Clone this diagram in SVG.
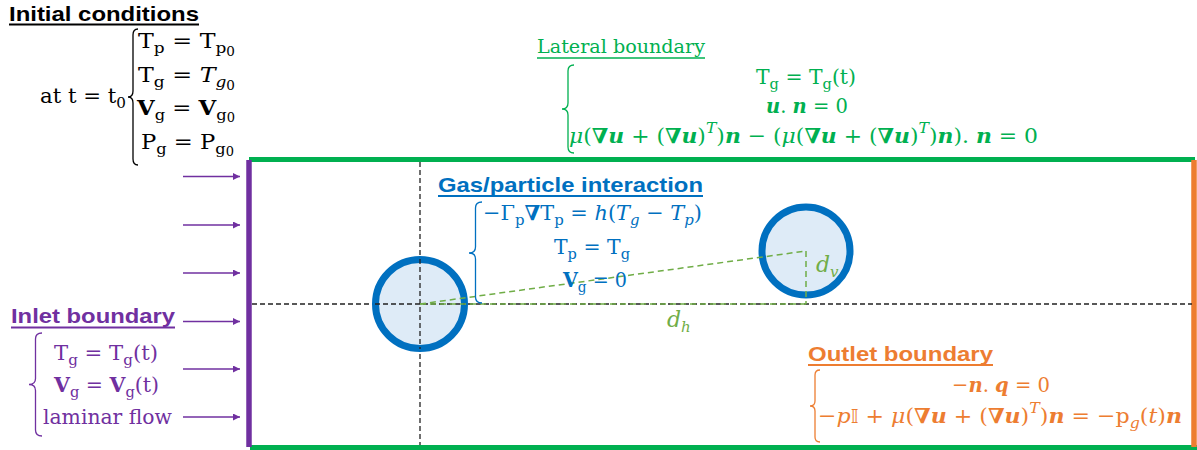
<svg xmlns="http://www.w3.org/2000/svg" width="1197" height="450" viewBox="0 0 1197 450">
<style>
.m{font-family:"DejaVu Serif","Liberation Serif",serif;font-size:21px}
.t{font-family:"Liberation Sans",Arial,sans-serif;font-size:20.5px;font-weight:bold}
.b{font-weight:bold}
.i{font-style:italic}
.bi{font-weight:bold;font-style:italic}
.s{font-size:15px}
.ss{font-size:12px}
.brace{fill:none;stroke-width:1.3}
.blk{fill:#000}
.grn{fill:#00B050}
.blu{fill:#0070C0}
.pur{fill:#7030A0}
.org{fill:#ED7D31}
.lg{fill:#70AD47}
</style>
<defs>
<marker id="ah" viewBox="0 0 10 10" refX="10" refY="5" markerWidth="8" markerHeight="7" markerUnits="userSpaceOnUse" orient="auto">
<path d="M0,0 L10,5 L0,10 z" fill="#7030A0"/>
</marker>
</defs>
<rect width="1197" height="450" fill="#fff"/>

<g id="domain">
<line x1="249" y1="159.5" x2="1195" y2="159.5" stroke="#00B050" stroke-width="5"/>
<line x1="250" y1="447.5" x2="1197" y2="447.5" stroke="#00B050" stroke-width="5"/>
<line x1="249" y1="160" x2="249" y2="447" stroke="#7030A0" stroke-width="5.5"/>
<line x1="1194" y1="160" x2="1194" y2="447" stroke="#ED7D31" stroke-width="5.5"/>
</g>

<g id="connectors">
<g stroke="#222" stroke-width="1.3" stroke-dasharray="5,3" fill="none">
<line x1="252" y1="304" x2="1192" y2="304"/>
<line x1="420" y1="162" x2="420" y2="445"/>
</g>
<g stroke="#7030A0" stroke-width="1.5" marker-end="url(#ah)">
<line x1="183" y1="176.5" x2="240" y2="176.5"/>
<line x1="183" y1="225" x2="240" y2="225"/>
<line x1="183" y1="273" x2="240" y2="273"/>
<line x1="183" y1="321.5" x2="240" y2="321.5"/>
<line x1="183" y1="369" x2="240" y2="369"/>
<line x1="183" y1="417" x2="240" y2="417"/>
</g>
</g>

<g id="particle1">
<circle cx="420" cy="304" r="44.5" fill="#DEEBF7" stroke="#0070C0" stroke-width="7"/>
<line x1="420" y1="259" x2="420" y2="349" stroke="#222" stroke-width="1.3" stroke-dasharray="5,3"/>
<line x1="375" y1="304" x2="465" y2="304" stroke="#222" stroke-width="1.3" stroke-dasharray="5,3"/>
</g>
<g id="particle2">
<circle cx="806" cy="251" r="44" fill="#DEEBF7" stroke="#0070C0" stroke-width="7"/>
</g>

<g id="distances" stroke="#70AD47" stroke-width="1.5" stroke-dasharray="6,4" fill="none">
<line x1="420" y1="304" x2="806" y2="251"/>
<line x1="806" y1="251" x2="806" y2="304"/>
<line x1="420" y1="304" x2="806" y2="304"/>
</g>
<g id="dist-labels">
<text x="667" y="327" class="m i lg" style="font-size:22px">d<tspan class="s" dy="5">h</tspan></text>
<text x="816" y="272" class="m i lg" style="font-size:22px">d<tspan class="s" dy="5">v</tspan></text>
</g>

<g id="initial-conditions">
<text x="9" y="21" class="t blk" textLength="190" lengthAdjust="spacingAndGlyphs">Initial conditions</text>
<line x1="9" y1="24.5" x2="199" y2="24.5" stroke="#000" stroke-width="1.8"/>
<text x="40" y="103" class="m blk" textLength="86" lengthAdjust="spacingAndGlyphs">at t = t<tspan class="s" dy="5">0</tspan></text>
<path class="brace" stroke="#000" d="M138,29 Q133,29 133,35 L133,91 Q133,97 128,97 Q133,97 133,103 L133,159 Q133,165 138,165"/>
<text x="138" y="48" class="m blk" textLength="97" lengthAdjust="spacingAndGlyphs">T<tspan class="s" dy="5">p</tspan><tspan dy="-5"> = T</tspan><tspan class="s" dy="5">p</tspan><tspan class="ss" dy="3">0</tspan></text>
<text x="138" y="81.5" class="m blk" textLength="97" lengthAdjust="spacingAndGlyphs">T<tspan class="s" dy="5">g</tspan><tspan dy="-5"> = </tspan><tspan class="i">T</tspan><tspan class="s i" dy="5">g</tspan><tspan class="ss" dy="3">0</tspan></text>
<text x="137" y="115" class="m blk" textLength="98" lengthAdjust="spacingAndGlyphs"><tspan class="b">V</tspan><tspan class="s" dy="5">g</tspan><tspan dy="-5"> = </tspan><tspan class="b">V</tspan><tspan class="s" dy="5">g</tspan><tspan class="ss" dy="2">0</tspan></text>
<text x="141" y="148.5" class="m blk" textLength="93" lengthAdjust="spacingAndGlyphs">P<tspan class="s" dy="5">g</tspan><tspan dy="-5"> = P</tspan><tspan class="s" dy="5">g</tspan><tspan class="ss" dy="2">0</tspan></text>
</g>

<g id="lateral-boundary">
<text x="537" y="53" class="m grn" style="font-size:19px" textLength="168" lengthAdjust="spacingAndGlyphs">Lateral boundary</text>
<line x1="537" y1="58" x2="705" y2="58" stroke="#00B050" stroke-width="1.5"/>
<path class="brace" stroke="#00B050" d="M574,65 Q568,65 568,71 L568,103 Q568,109 562,109 Q568,109 568,115 L568,147 Q568,153 574,153"/>
<text x="756" y="84" class="m grn" textLength="100" lengthAdjust="spacingAndGlyphs">T<tspan class="s" dy="5">g</tspan><tspan dy="-5"> = T</tspan><tspan class="s" dy="5">g</tspan><tspan dy="-5">(t)</tspan></text>
<text x="766" y="113" class="m grn" textLength="82" lengthAdjust="spacingAndGlyphs"><tspan class="bi">u</tspan>. <tspan class="bi">n</tspan> = 0</text>
<text x="569" y="143" class="m grn" textLength="469" lengthAdjust="spacingAndGlyphs"><tspan class="i">μ</tspan>(<tspan class="b">∇</tspan><tspan class="bi">u</tspan> + (<tspan class="b">∇</tspan><tspan class="bi">u</tspan>)<tspan class="s i" dy="-10">T</tspan><tspan dy="10">)</tspan><tspan class="bi">n</tspan> − (<tspan class="i">μ</tspan>(<tspan class="b">∇</tspan><tspan class="bi">u</tspan> + (<tspan class="b">∇</tspan><tspan class="bi">u</tspan>)<tspan class="s i" dy="-10">T</tspan><tspan dy="10">)</tspan><tspan class="bi">n</tspan>). <tspan class="bi">n</tspan> = 0</text>
</g>

<g id="gas-particle-interaction">
<text x="438" y="192" class="t blu" textLength="265" lengthAdjust="spacingAndGlyphs">Gas/particle interaction</text>
<line x1="438" y1="196" x2="703" y2="196" stroke="#0070C0" stroke-width="2"/>
<path class="brace" stroke="#0070C0" d="M482,202 Q475.5,202 475.5,208 L475.5,247 Q475.5,253 469,253 Q475.5,253 475.5,259 L475.5,297 Q475.5,303 482,303"/>
<text x="483" y="220" class="m blu" textLength="219" lengthAdjust="spacingAndGlyphs">−Γ<tspan class="s" dy="5">p</tspan><tspan class="b" dy="-5">∇</tspan>T<tspan class="s" dy="5">p</tspan><tspan dy="-5"> = </tspan><tspan class="i">h</tspan>(<tspan class="i">T</tspan><tspan class="s i" dy="5">g</tspan><tspan dy="-5"> − </tspan><tspan class="i">T</tspan><tspan class="s i" dy="5">p</tspan><tspan dy="-5">)</tspan></text>
<text x="554" y="254" class="m blu" textLength="76" lengthAdjust="spacingAndGlyphs">T<tspan class="s" dy="5">p</tspan><tspan dy="-5"> = T</tspan><tspan class="s" dy="5">g</tspan></text>
<text x="563" y="287" class="m blu" textLength="64" lengthAdjust="spacingAndGlyphs"><tspan class="b">V</tspan><tspan class="s" dy="5">g</tspan><tspan dy="-5"> = 0</tspan></text>
</g>

<g id="inlet-boundary">
<text x="11" y="323" class="t pur" textLength="164" lengthAdjust="spacingAndGlyphs">Inlet boundary</text>
<line x1="11" y1="327.5" x2="175" y2="327.5" stroke="#7030A0" stroke-width="2"/>
<path class="brace" stroke="#7030A0" d="M42,333 Q35.5,333 35.5,339 L35.5,378.5 Q35.5,384.5 29,384.5 Q35.5,384.5 35.5,390.5 L35.5,430 Q35.5,436 42,436"/>
<text x="54" y="360" class="m pur" textLength="104" lengthAdjust="spacingAndGlyphs">T<tspan class="s" dy="5">g</tspan><tspan dy="-5"> = T</tspan><tspan class="s" dy="5">g</tspan><tspan dy="-5">(t)</tspan></text>
<text x="54" y="392" class="m pur" textLength="105" lengthAdjust="spacingAndGlyphs"><tspan class="b">V</tspan><tspan class="s" dy="5">g</tspan><tspan dy="-5"> = </tspan><tspan class="b">V</tspan><tspan class="s" dy="5">g</tspan><tspan dy="-5">(t)</tspan></text>
<text x="43" y="424" class="m pur" textLength="129" lengthAdjust="spacingAndGlyphs">laminar flow</text>
</g>

<g id="outlet-boundary">
<text x="808" y="361" class="t org" textLength="185" lengthAdjust="spacingAndGlyphs">Outlet boundary</text>
<line x1="808" y1="365" x2="993" y2="365" stroke="#ED7D31" stroke-width="2"/>
<path class="brace" stroke="#ED7D31" d="M820,370 Q815,370 815,375 L815,401 Q815,406 810,406 Q815,406 815,411 L815,437 Q815,442 820,442"/>
<text x="952" y="392" class="m org" textLength="98" lengthAdjust="spacingAndGlyphs">−<tspan class="bi">n</tspan>. <tspan class="bi">q</tspan> = 0</text>
<text x="818" y="423" class="m org" textLength="364" lengthAdjust="spacingAndGlyphs">−<tspan class="i">p</tspan><tspan style="font-family:'DejaVu Sans',sans-serif;font-size:19px">𝕀</tspan> + <tspan class="i">μ</tspan>(<tspan class="b">∇</tspan><tspan class="bi">u</tspan> + (<tspan class="b">∇</tspan><tspan class="bi">u</tspan>)<tspan class="s i" dy="-10">T</tspan><tspan dy="10">)</tspan><tspan class="bi">n</tspan> = −p<tspan class="s i" dy="5">g</tspan><tspan dy="-5">(</tspan><tspan class="i">t</tspan>)<tspan class="bi">n</tspan></text>
</g>
</svg>
